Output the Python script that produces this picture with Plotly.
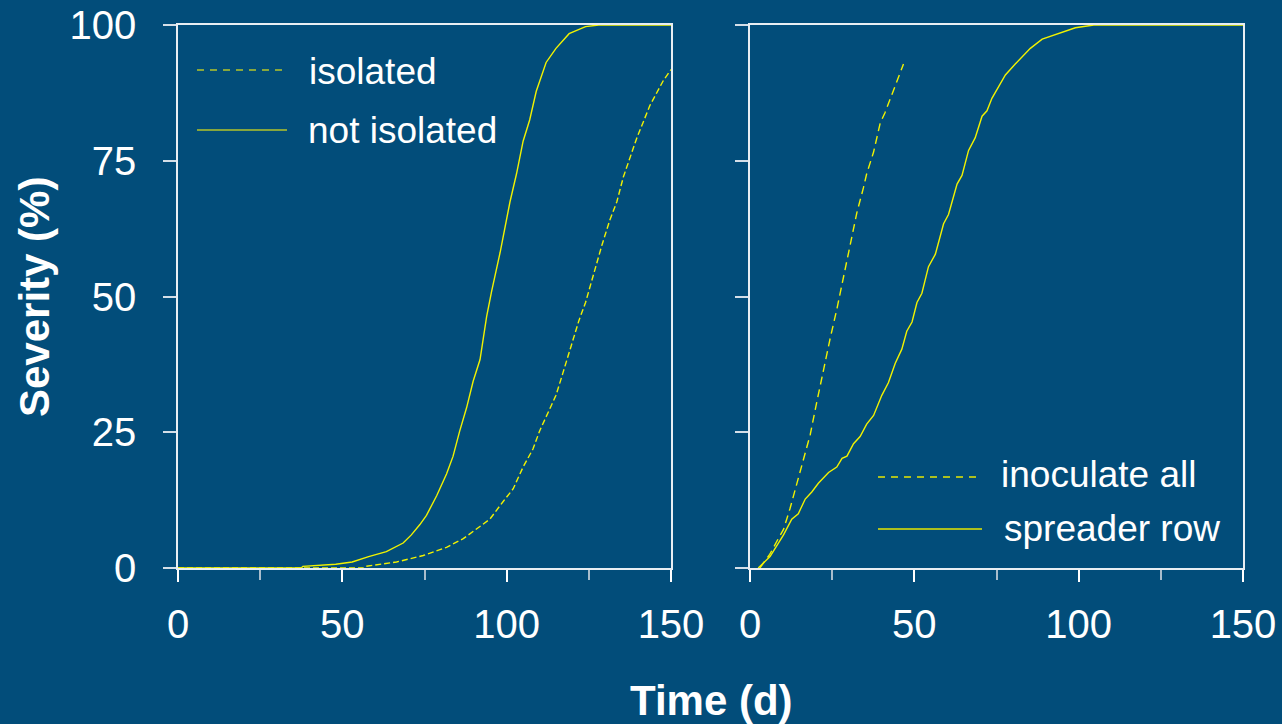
import plotly.graph_objects as go

# ---------------- data ----------------
# Left panel
not_iso_day = [0, 37.5, 38, 48, 53, 58, 63.4, 68.5, 71, 73.6, 75.6, 78.7, 81.7, 83.7, 85.7, 87.8, 89.8,
               91.9, 93.9, 95.4, 98, 99.5, 101, 103, 105, 107, 109, 112, 115, 119, 124, 128, 150]
not_iso_sev = [0, 0, 0.3, 0.7, 1.1, 2.1, 3.0, 4.6, 6.1, 8.0, 9.7, 13.3, 17.3, 20.6, 25.2, 29.5, 34.4,
               38.4, 46.3, 50.9, 58.1, 62.8, 67.4, 72.6, 78.6, 82.5, 87.8, 93.1, 95.7, 98.4, 99.7, 100, 100]

iso_day = [0, 56.5, 57, 66.5, 74.6, 81.7, 86.8, 90.8, 94.9, 99, 102, 105, 108, 110, 113, 115, 117, 119,
           122, 124, 127, 129, 131.4, 133.5, 135.5, 139.6, 143.6, 147.7, 150]
iso_sev = [0, 0, 0.3, 1.1, 2.3, 3.8, 5.4, 7.1, 9.0, 12.3, 14.6, 18.6, 21.9, 25.2, 29.1, 31.8, 35.7, 39.7,
           45.6, 48.9, 55.5, 59.5, 64.1, 67.4, 72.0, 79.2, 85.2, 89.8, 91.8]

# Right panel
spr_day = [2.5, 6.1, 10.2, 12.7, 14.7, 16.8, 18.8, 20.8, 23.9, 26.4, 28, 29.5, 31.5, 33.5, 35.5, 37.6,
           40.1, 42.1, 44.2, 46.2, 47.7, 49.3, 50.8, 52.3, 54.3, 56.4, 58.9, 60.4, 63, 64.5, 66.5, 68.5,
           70.6, 72.1, 73.6, 77.7, 80.7, 85.3, 88.9, 95, 99, 104.6, 150]
spr_sev = [0, 2.1, 6.1, 9.0, 10, 12.7, 14, 15.6, 17.6, 18.6, 20.2, 20.6, 22.9, 24.2, 26.5, 28.1,
           31.8, 34.1, 37.7, 40.3, 43.6, 45.3, 48.9, 50.6, 55.5, 57.8, 63.4, 65.1, 70.7, 72.3, 76.9, 79.2,
           83.2, 84.2, 86.5, 90.8, 92.8, 95.7, 97.4, 98.7, 99.5, 100, 100]

ino_day = [3, 6, 8.6, 10.2, 12.2, 14.2, 16.2, 18.3, 20.3, 22.3, 24.4, 26.4, 28.4, 30.5, 32.5, 34.5,
           35.5, 37.6, 39.6, 41.1, 43.2, 45.2, 46.7]
ino_sev = [0, 2.5, 5.4, 7.1, 11, 15.3, 19.9, 24.5, 30.5, 36.4, 42.3, 47.6, 53.5, 60.1, 65.4, 70,
           72.6, 76.6, 81.9, 83.9, 87.1, 90.4, 92.8]

x_ticks = [0, 50, 100, 150]
y_ticks = [0, 25, 50, 75, 100]
left_legend = ["isolated", "not isolated"]
right_legend = ["inoculate all", "spreader row"]

# ---------------- style ----------------
W, H = 1282, 724
BG = "#024D7A"
CURVE = "#F2F200"
FONT = "Liberation Sans, Arial, sans-serif"

def px(x):
    return x / W

def py(y):
    return 1 - y / H

fig = go.Figure()
fig.add_trace(go.Scatter(x=iso_day, y=iso_sev, mode="lines", name=left_legend[0],
                         line=dict(color=CURVE, width=1.4, dash="6px,3px"), xaxis="x", yaxis="y"))
fig.add_trace(go.Scatter(x=not_iso_day, y=not_iso_sev, mode="lines", name=left_legend[1],
                         line=dict(color=CURVE, width=1.4), xaxis="x", yaxis="y"))
fig.add_trace(go.Scatter(x=ino_day, y=ino_sev, mode="lines", name=right_legend[0],
                         line=dict(color=CURVE, width=1.4, dash="8px,5px"), xaxis="x2", yaxis="y2"))
fig.add_trace(go.Scatter(x=spr_day, y=spr_sev, mode="lines", name=right_legend[1],
                         line=dict(color=CURVE, width=1.4), xaxis="x2", yaxis="y2"))

xdom1 = [px(178), px(671)]
xdom2 = [px(750), px(1243)]
ydom = [py(568), py(25)]

xax = dict(range=[0, 150], tickvals=x_ticks, ticks="outside", ticklen=12, tickwidth=1.5,
           tickcolor="#FFFFFF", showline=True, linecolor="#E8EEF3", linewidth=1.5, mirror=True,
           showgrid=False, zeroline=False, tickfont=dict(family=FONT, size=40, color="#FFFFFF"),
           minor=dict(dtick=25, tick0=0, ticks="outside", ticklen=10, tickwidth=1.5, tickcolor="#A9BDCC"),
           ticklabelstandoff=8, automargin=False, fixedrange=True)
yax = dict(range=[0, 100], tickvals=y_ticks, ticks="outside", ticklen=13, tickwidth=1.5,
           tickcolor="#D5DFE8", showline=True, linecolor="#E8EEF3", linewidth=1.5, mirror=True,
           showgrid=False, zeroline=False, tickfont=dict(family=FONT, size=40, color="#FFFFFF"),
           ticklabelstandoff=19, automargin=False, fixedrange=True)

fig.update_layout(
    width=W, height=H, margin=dict(l=0, r=0, t=0, b=0),
    paper_bgcolor=BG, plot_bgcolor=BG, showlegend=False,
    xaxis=dict(xax, domain=xdom1, anchor="y"),
    yaxis=dict(yax, domain=ydom, anchor="x"),
    xaxis2=dict(xax, domain=xdom2, anchor="y2"),
    yaxis2=dict(yax, domain=ydom, anchor="x2", showticklabels=False),
)

# axis titles
fig.add_annotation(text="Time (d)", xref="paper", yref="paper", x=px(711), y=py(700),
                   xanchor="center", yanchor="middle", showarrow=False,
                   font=dict(family=FONT, size=42, color="#FFFFFF", weight="bold"))
fig.add_annotation(text="Severity (%)", xref="paper", yref="paper", x=px(35), y=py(297),
                   xanchor="center", yanchor="middle", textangle=-90, showarrow=False,
                   font=dict(family=FONT, size=42, color="#FFFFFF", weight="bold"))

# legend keys (drawn as in the original: long sample lines)
LEG_OLIVE = "#B5C52A"
legend_items = [
    (left_legend[0], 197, 287, 70, 307, 72, "7px,6px", LEG_OLIVE),
    (left_legend[1], 197, 287, 130, 306, 130, "solid", LEG_OLIVE),
    (right_legend[0], 878, 978, 477, 999, 474, "7px,6px", "#E6E600"),
    (right_legend[1], 878, 982, 529, 1002, 528, "solid", "#E6E600"),
]
for label, x0, x1, ly, tx, ty, dash, col in legend_items:
    fig.add_shape(type="line", xref="paper", yref="paper", x0=px(x0), x1=px(x1), y0=py(ly), y1=py(ly),
                  line=dict(color=col, width=1.4, dash=dash))
    fig.add_annotation(text=label, xref="paper", yref="paper", x=px(tx), y=py(ty),
                       xanchor="left", yanchor="middle", showarrow=False,
                       font=dict(family=FONT, size=37, color="#FFFFFF"))

fig.write_html("out.html")
